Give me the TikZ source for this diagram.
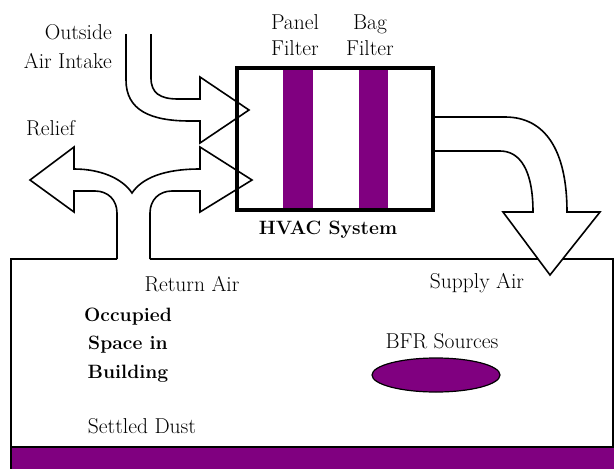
\documentclass[tikz,border=0pt]{standalone}
\definecolor{filterpurple}{HTML}{800080}
\begin{document}
\begin{tikzpicture}[x=1pt, y=-1pt,
        lbl/.style={font=\fontsize{21.5}{29}\selectfont, align=center, inner sep=0pt, text=black},
        duct/.style={draw=black, line width=1.6pt, fill=white, line join=miter}]
        \useasboundingbox[fill=white] (0,0) rectangle (614,469);
        \fill[filterpurple] (11,447) rectangle (616,472);
        \draw[line width=2pt] (11,472) -- (11,259) -- (117,259);
        \draw[line width=2pt] (150,259) -- (613,259) -- (613,447);
        \draw[line width=2pt] (11,447) -- (616,447);
        \draw[fill=filterpurple, line width=1.2pt] (436,375) ellipse (64 and 17);
        \draw[duct] (126,34) -- (126,80) .. controls (126,110) and (150,121) .. (190,121)
            -- (200,121) -- (200,143) -- (249,110) -- (200,77) -- (200,99) -- (178,99)
            .. controls (160,99) and (151,93) .. (151,78) -- (151,34);
        \draw[duct] (117,259) -- (117,213) .. controls (117,200) and (108,191) .. (95,191)
            -- (74,191) -- (74,212) -- (30,180) -- (74,147) -- (74,169)
            .. controls (100,169) and (122,178) .. (132,193)
            .. controls (142,178) and (164,169) .. (200,169) -- (200,147) -- (252,180)
            -- (200,212) -- (200,191) -- (172,191) .. controls (159,191) and (150,200) .. (150,213)
            -- (150,259);
        \draw[duct] (433,117) -- (505,117) .. controls (545,117) and (567,150) .. (567,212)
            -- (600,212) -- (550,275) -- (503,212) -- (533,212)
            .. controls (533,170) and (520,151) .. (500,151) -- (433,151);
        \fill[filterpurple] (283,68) rectangle (313,210);
        \fill[filterpurple] (359,68) rectangle (388,210);
        \draw[line width=3.5pt] (237,68) rectangle (433,210);
        \node[lbl, align=right, anchor=east] (intake) at (112,47) {Outside\\Air Intake};
        \node[lbl, font=\fontsize{21.5}{26}\selectfont] (panel) at (295,35) {Panel\\Filter};
        \node[lbl, font=\fontsize{21.5}{26}\selectfont] (bag) at (370,35) {Bag\\Filter};
        \node[lbl, font=\fontsize{19.3}{28}\selectfont\bfseries] (hvac) at (328,230) {HVAC System};
        \node[lbl, anchor=west] (relief) at (26,128) {Relief};
        \node[lbl] (return) at (192,284) {Return Air};
        \node[lbl] (supply) at (477,283) {Supply Air};
        \node[lbl, font=\fontsize{19.3}{28.5}\selectfont\bfseries] (space) at (128,345) {Occupied\\Space in\\Building};
        \node[lbl] (bfr) at (442,341) {BFR Sources};
        \node[lbl] (dust) at (142,426) {Settled Dust};
    \end{tikzpicture}
\end{document}
